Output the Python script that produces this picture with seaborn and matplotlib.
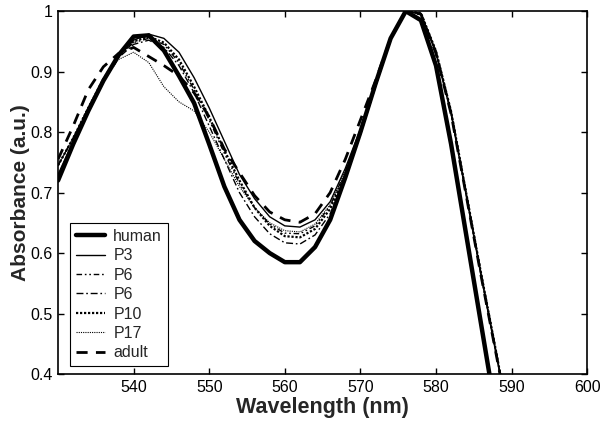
import numpy as np
import pandas as pd
import matplotlib
matplotlib.use("Agg")
import matplotlib.pyplot as plt
import seaborn as sns

wavelength = [530, 532, 534, 536, 538, 540, 542, 544, 546, 548, 550, 552, 554, 556, 558,
              560, 562, 564, 566, 568, 570, 572, 574, 576, 578, 580, 582, 584, 586, 588, 590]

human = [0.72, 0.78, 0.835, 0.885, 0.927, 0.958, 0.96, 0.935, 0.893, 0.848, 0.78, 0.71, 0.655, 0.62, 0.60,
         0.585, 0.585, 0.61, 0.655, 0.725, 0.80, 0.88, 0.955, 1.0, 0.985, 0.91, 0.78, 0.63, 0.48, 0.33, 0.20]
p3 = [0.73, 0.785, 0.838, 0.885, 0.925, 0.952, 0.962, 0.955, 0.932, 0.89, 0.84, 0.785, 0.73, 0.69, 0.66,
      0.645, 0.643, 0.655, 0.685, 0.74, 0.805, 0.88, 0.955, 1.0, 0.995, 0.93, 0.83, 0.695, 0.56, 0.43, 0.30]
p6a = [0.745, 0.79, 0.84, 0.888, 0.925, 0.948, 0.955, 0.945, 0.915, 0.87, 0.82, 0.765, 0.715, 0.675, 0.648,
       0.633, 0.632, 0.645, 0.678, 0.735, 0.80, 0.877, 0.955, 1.0, 0.996, 0.932, 0.832, 0.697, 0.562, 0.432, 0.30]
p6b = [0.745, 0.79, 0.84, 0.887, 0.923, 0.945, 0.952, 0.94, 0.91, 0.865, 0.81, 0.755, 0.70, 0.66, 0.632,
       0.617, 0.615, 0.63, 0.665, 0.725, 0.795, 0.875, 0.955, 1.0, 0.996, 0.933, 0.833, 0.698, 0.563, 0.433, 0.30]
p10 = [0.745, 0.79, 0.84, 0.888, 0.926, 0.95, 0.958, 0.948, 0.92, 0.875, 0.825, 0.77, 0.72, 0.675, 0.645,
       0.628, 0.626, 0.64, 0.673, 0.73, 0.80, 0.877, 0.955, 1.0, 0.997, 0.934, 0.834, 0.699, 0.564, 0.434, 0.30]
p17 = [0.745, 0.79, 0.84, 0.885, 0.92, 0.932, 0.915, 0.875, 0.85, 0.835, 0.80, 0.755, 0.71, 0.675, 0.65,
       0.637, 0.635, 0.648, 0.68, 0.735, 0.80, 0.875, 0.955, 1.0, 0.997, 0.935, 0.835, 0.70, 0.565, 0.435, 0.30]
adult = [0.755, 0.81, 0.87, 0.908, 0.93, 0.94, 0.925, 0.91, 0.893, 0.865, 0.825, 0.772, 0.733, 0.695, 0.668,
         0.655, 0.651, 0.665, 0.70, 0.755, 0.82, 0.885, 0.955, 1.0, 0.995, 0.93, 0.83, 0.695, 0.56, 0.43, 0.30]

series_names = ["human", "P3", "P6", "P6 ", "P10", "P17", "adult"]
series_values = [human, p3, p6a, p6b, p10, p17, adult]

x_ticks = [540, 550, 560, 570, 580, 590, 600]
y_ticks = [0.4, 0.5, 0.6, 0.7, 0.8, 0.9, 1.0]
y_ticklabels = ["0.4", "0.5", "0.6", "0.7", "0.8", "0.9", "1"]

frames = []
for name, vals in zip(series_names, series_values):
    frames.append(pd.DataFrame({"wl": wavelength, "abs": vals, "series": name}))
df = pd.concat(frames, ignore_index=True)

sns.set_theme(style="ticks")
plt.rcParams["font.family"] = ["Liberation Sans", "DejaVu Sans"]

styles = {
    "human": dict(linewidth=3.2, linestyle="-"),
    "P3": dict(linewidth=1.0, linestyle="-"),
    "P6": dict(linewidth=1.0, linestyle=(0, (4, 2, 1.2, 2, 1.2, 2))),
    "P6 ": dict(linewidth=1.0, linestyle=(0, (5, 2, 1.2, 2))),
    "P10": dict(linewidth=1.6, linestyle=(0, (1, 0.8))),
    "P17": dict(linewidth=0.8, linestyle=(0, (1, 1))),
    "adult": dict(linewidth=2.0, linestyle=(0, (4, 3))),
}

fig = plt.figure(figsize=(6.11, 4.28), dpi=100)
ax = fig.add_axes([0.095, 0.126, 0.866, 0.848])

for name in series_names:
    sub = df[df["series"] == name]
    sns.lineplot(data=sub, x="wl", y="abs", ax=ax, color="black",
                 label=name.strip(), estimator=None, sort=False, **styles[name])

ax.set_xlim(530, 600)
ax.set_ylim(0.4, 1.0)
ax.set_xticks(x_ticks)
ax.set_xticklabels([str(t) for t in x_ticks])
ax.set_yticks(y_ticks)
ax.set_yticklabels(y_ticklabels)
ax.tick_params(direction="in", length=4, width=1, top=True, right=True,
               labelsize=11.5, colors="black", pad=4)
for sp in ax.spines.values():
    sp.set_visible(True)
    sp.set_linewidth(1.2)
    sp.set_color("black")

ax.set_xlabel("Wavelength (nm)", fontsize=15.5, fontweight="bold", labelpad=2)
ax.set_ylabel("Absorbance (a.u.)", fontsize=15, fontweight="bold", labelpad=0)

leg = ax.legend(loc="lower left", bbox_to_anchor=(0.023, 0.022), fontsize=11.5,
                frameon=True, fancybox=False, edgecolor="black", framealpha=1,
                handlelength=1.8, handletextpad=0.55, labelspacing=0.28,
                borderpad=0.35, borderaxespad=0)
leg.get_frame().set_linewidth(0.8)

fig.savefig("out.png", dpi=100, facecolor="white")
